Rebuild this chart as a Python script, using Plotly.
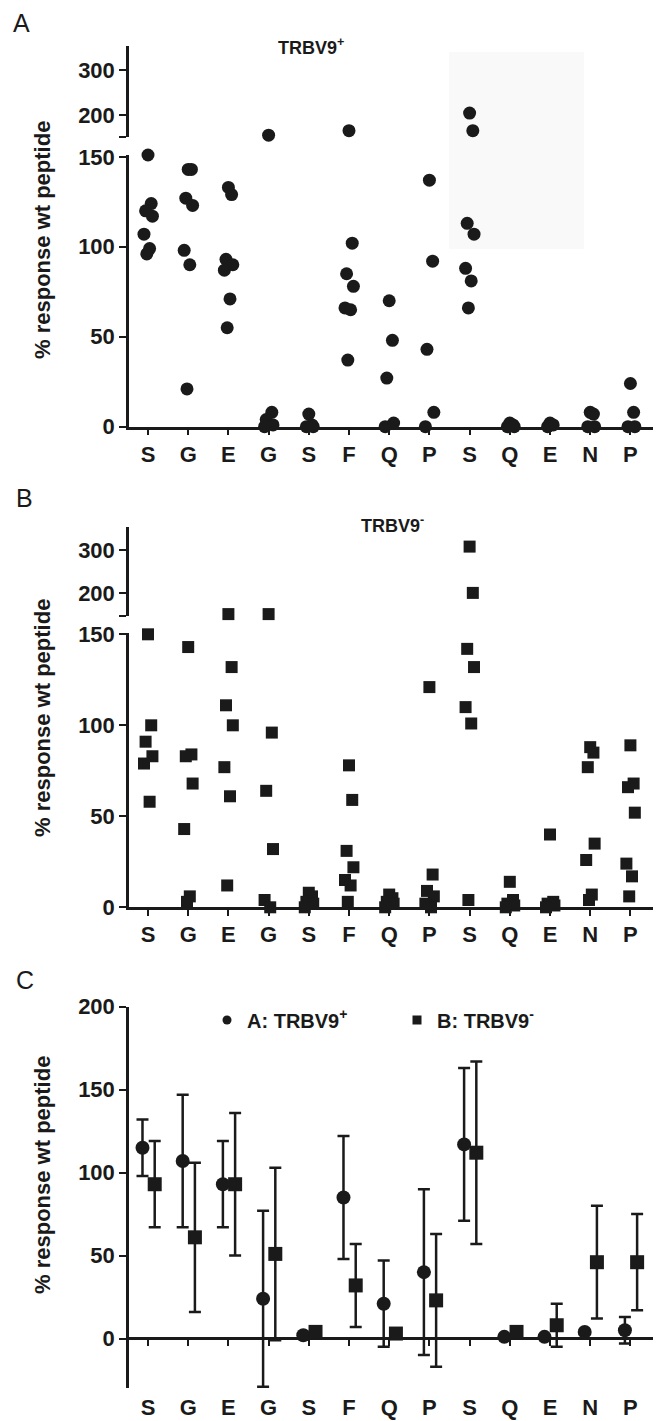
import plotly.graph_objects as go

# ---------------- data ----------------
CATEGORIES = ["S", "G", "E", "G", "S", "F", "Q", "P", "S", "Q", "E", "N", "P"]

# Panel A: TRBV9+ individual responses (% response to wt peptide)
A_VALUES = [
    [151, 124, 120, 117, 107, 99, 96],
    [143, 143, 127, 123, 98, 90, 21],
    [133, 129, 93, 90, 87, 71, 55],
    [155, 8, 4, 1, 0],
    [7, 1, 0, 0],
    [165, 102, 85, 78, 66, 65, 37],
    [70, 48, 27, 2, 0],
    [137, 92, 43, 8, 0],
    [204, 165, 113, 107, 88, 81, 66],
    [2, 1, 0, 0],
    [2, 1, 0],
    [8, 7, 0, 0],
    [24, 8, 0, 0],
]

# Panel B: TRBV9- individual responses
B_VALUES = [
    [150, 100, 91, 83, 79, 58],
    [143, 84, 83, 68, 43, 6, 3],
    [152, 132, 111, 100, 77, 61, 12],
    [152, 96, 64, 32, 4, 0],
    [8, 6, 3, 2, 0],
    [78, 59, 31, 22, 15, 12, 3],
    [7, 5, 3, 2, 0],
    [121, 18, 9, 6, 2, 0],
    [308, 201, 142, 132, 110, 101, 4],
    [14, 4, 2, 1, 0],
    [40, 3, 2, 1, 0],
    [88, 85, 77, 35, 26, 7, 4],
    [89, 68, 66, 52, 24, 17, 6],
]

# Panel C: mean +/- SD
A_MEAN = [115, 107, 93, 24, 2, 85, 21, 40, 117, 1, 1, 4, 5]
A_SD = [17, 40, 26, 53, 1, 37, 26, 50, 46, 1, 1, 1, 8]
B_MEAN = [93, 61, 93, 51, 4, 32, 3, 23, 112, 4, 8, 46, 46]
B_SD = [26, 45, 43, 52, 1, 25, 1, 40, 55, 1, 13, 34, 29]

# ---------------- style ----------------
W, H = 663, 1421
FONT = "Liberation Sans, Arial, Helvetica, sans-serif"
BLACK = "#1a1a1a"
JITTER = [0.0, 0.08, -0.06, 0.11, -0.1, 0.04, -0.03]
OFF_A, OFF_B = -0.137, 0.167
XRANGE = [-0.4726, 12.562]
XDOM = [129 / W, 653 / W]


def py(px):
    return 1 - px / H


fig = go.Figure()


def scatter_panel(values, split, symbol, size, xl, yl, xu, yu):
    lx, ly, ux, uy = [], [], [], []
    for i, grp in enumerate(values):
        for j, v in enumerate(grp):
            x = i + JITTER[j % len(JITTER)]
            if v > split:
                ux.append(x); uy.append(v)
            else:
                lx.append(x); ly.append(v)
    mk = dict(symbol=symbol, size=size, color=BLACK, line=dict(width=0))
    fig.add_trace(go.Scatter(x=lx, y=ly, mode="markers", marker=mk, xaxis=xl, yaxis=yl,
                             cliponaxis=False, showlegend=False, hoverinfo="skip"))
    fig.add_trace(go.Scatter(x=ux, y=uy, mode="markers", marker=mk, xaxis=xu, yaxis=yu,
                             cliponaxis=False, showlegend=False, hoverinfo="skip"))


A_SPLIT = 151
B_SPLIT = 150.5
scatter_panel(A_VALUES, A_SPLIT, "circle", 13, "x", "y", "x2", "y2")
scatter_panel(B_VALUES, B_SPLIT, "square", 12, "x3", "y3", "x4", "y4")

# Panel C
idx = list(range(len(CATEGORIES)))
err = dict(type="data", thickness=2.5, width=6, color=BLACK)
fig.add_trace(go.Scatter(x=[i + OFF_A for i in idx], y=A_MEAN, mode="markers",
                         marker=dict(symbol="circle", size=14, color=BLACK),
                         error_y=dict(array=A_SD, **err), xaxis="x5", yaxis="y5",
                         showlegend=False, cliponaxis=False, hoverinfo="skip"))
fig.add_trace(go.Scatter(x=[i + OFF_B for i in idx], y=B_MEAN, mode="markers",
                         marker=dict(symbol="square", size=14, color=BLACK),
                         error_y=dict(array=B_SD, **err), xaxis="x5", yaxis="y5",
                         showlegend=False, cliponaxis=False, hoverinfo="skip"))
# legend entries
fig.add_trace(go.Scatter(x=[None], y=[None], mode="markers", name="A: TRBV9<sup>+</sup>",
                         marker=dict(symbol="circle", size=9, color=BLACK), xaxis="x5", yaxis="y5"))
fig.add_trace(go.Scatter(x=[None], y=[None], mode="markers", name="B: TRBV9<sup>-</sup>",
                         marker=dict(symbol="square", size=9, color=BLACK), xaxis="x5", yaxis="y5"))

tickfont = dict(family=FONT, size=22, color=BLACK, weight="bold")
common_y = dict(showline=True, linewidth=2.5, linecolor=BLACK, ticks="outside", ticklen=7,
                tickwidth=2, tickcolor=BLACK, tickfont=tickfont, showgrid=False, zeroline=False,
                automargin=False)
common_x = dict(range=XRANGE, domain=XDOM, tickmode="array", tickvals=idx, ticktext=CATEGORIES,
                showgrid=False, zeroline=False, tickfont=tickfont, automargin=False)
x_shown = dict(showline=True, linewidth=2.5, linecolor=BLACK, ticks="outside", ticklen=6,
               tickwidth=2, tickcolor=BLACK)


def break_tick(v):
    return dict(tickmode="array", tickvals=[v], ticks="outside", ticklen=7, tickwidth=2,
                tickcolor=BLACK, showgrid=False)


fig.update_layout(
    xaxis=dict(**common_x, **x_shown, anchor="y"),
    yaxis=dict(**common_y, anchor="x", domain=[py(426.7), py(155)], range=[0, 151],
               tickvals=[0, 50, 100, 150]),
    xaxis2=dict(**common_x, anchor="y2", visible=False, matches="x"),
    yaxis2=dict(**common_y, anchor="x2", domain=[py(137), py(46)], range=[151, 353],
                tickvals=[200, 300], minor=break_tick(151)),
    xaxis3=dict(**common_x, **x_shown, anchor="y3"),
    yaxis3=dict(**common_y, anchor="x3", domain=[py(907.3), py(633.4)], range=[0, 150.5],
                tickvals=[0, 50, 100, 150]),
    xaxis4=dict(**common_x, anchor="y4", visible=False, matches="x3"),
    yaxis4=dict(**common_y, anchor="x4", domain=[py(616), py(526.7)], range=[147.6, 354],
                tickvals=[200, 300], minor=break_tick(147.6)),
    xaxis5=dict(**common_x, **x_shown, anchor="free", position=py(1338.3), ticklabelstandoff=43),
    yaxis5=dict(**common_y, anchor="x5", domain=[py(1388.3), py(1006.7)], range=[-30, 200],
                tickvals=[0, 50, 100, 150, 200]),
)

annos = [
    dict(text="A", x=11 / W, y=py(22.5), xanchor="left"),
    dict(text="B", x=14 / W, y=py(498.5), xanchor="left"),
    dict(text="C", x=14 / W, y=py(980), xanchor="left"),
]
for a in annos:
    a.update(xref="paper", yref="paper", yanchor="middle", showarrow=False,
             font=dict(family=FONT, size=25, color=BLACK))
    fig.add_annotation(**a)

for txt, xc, yc in [("TRBV9<sup>+</sup>", 311, 47), ("TRBV9<sup>-</sup>", 392, 524)]:
    fig.add_annotation(text=txt, x=xc / W, y=py(yc), xref="paper", yref="paper",
                       xanchor="center", yanchor="middle", showarrow=False,
                       font=dict(family=FONT, size=18, color=BLACK, weight="bold"))

for yc in [240, 718, 1175]:
    fig.add_annotation(text="% response wt peptide", x=42 / W, y=py(yc), xref="paper", yref="paper",
                       xanchor="center", yanchor="middle", textangle=-90, showarrow=False,
                       font=dict(family=FONT, size=22, color=BLACK, weight="bold"))

fig.add_shape(type="rect", xref="paper", yref="paper", x0=449 / W, x1=584 / W,
              y0=py(249), y1=py(52), fillcolor="#f9f9f9", line=dict(width=0), layer="below")

fig.update_layout(
    width=W, height=H, autosize=False,
    margin=dict(l=0, r=0, t=0, b=0, autoexpand=False),
    paper_bgcolor="white", plot_bgcolor="rgba(0,0,0,0)",
    showlegend=True,
    legend=dict(orientation="h", x=207 / W, y=py(1020), xanchor="left", yanchor="middle",
                font=dict(family=FONT, size=20, color=BLACK, weight="bold"),
                entrywidth=145, entrywidthmode="pixels", bgcolor="rgba(0,0,0,0)"),
)

fig.write_html("out.html", config={"displayModeBar": False},
               post_script="document.body.style.margin='0';document.body.style.overflow='hidden';")
